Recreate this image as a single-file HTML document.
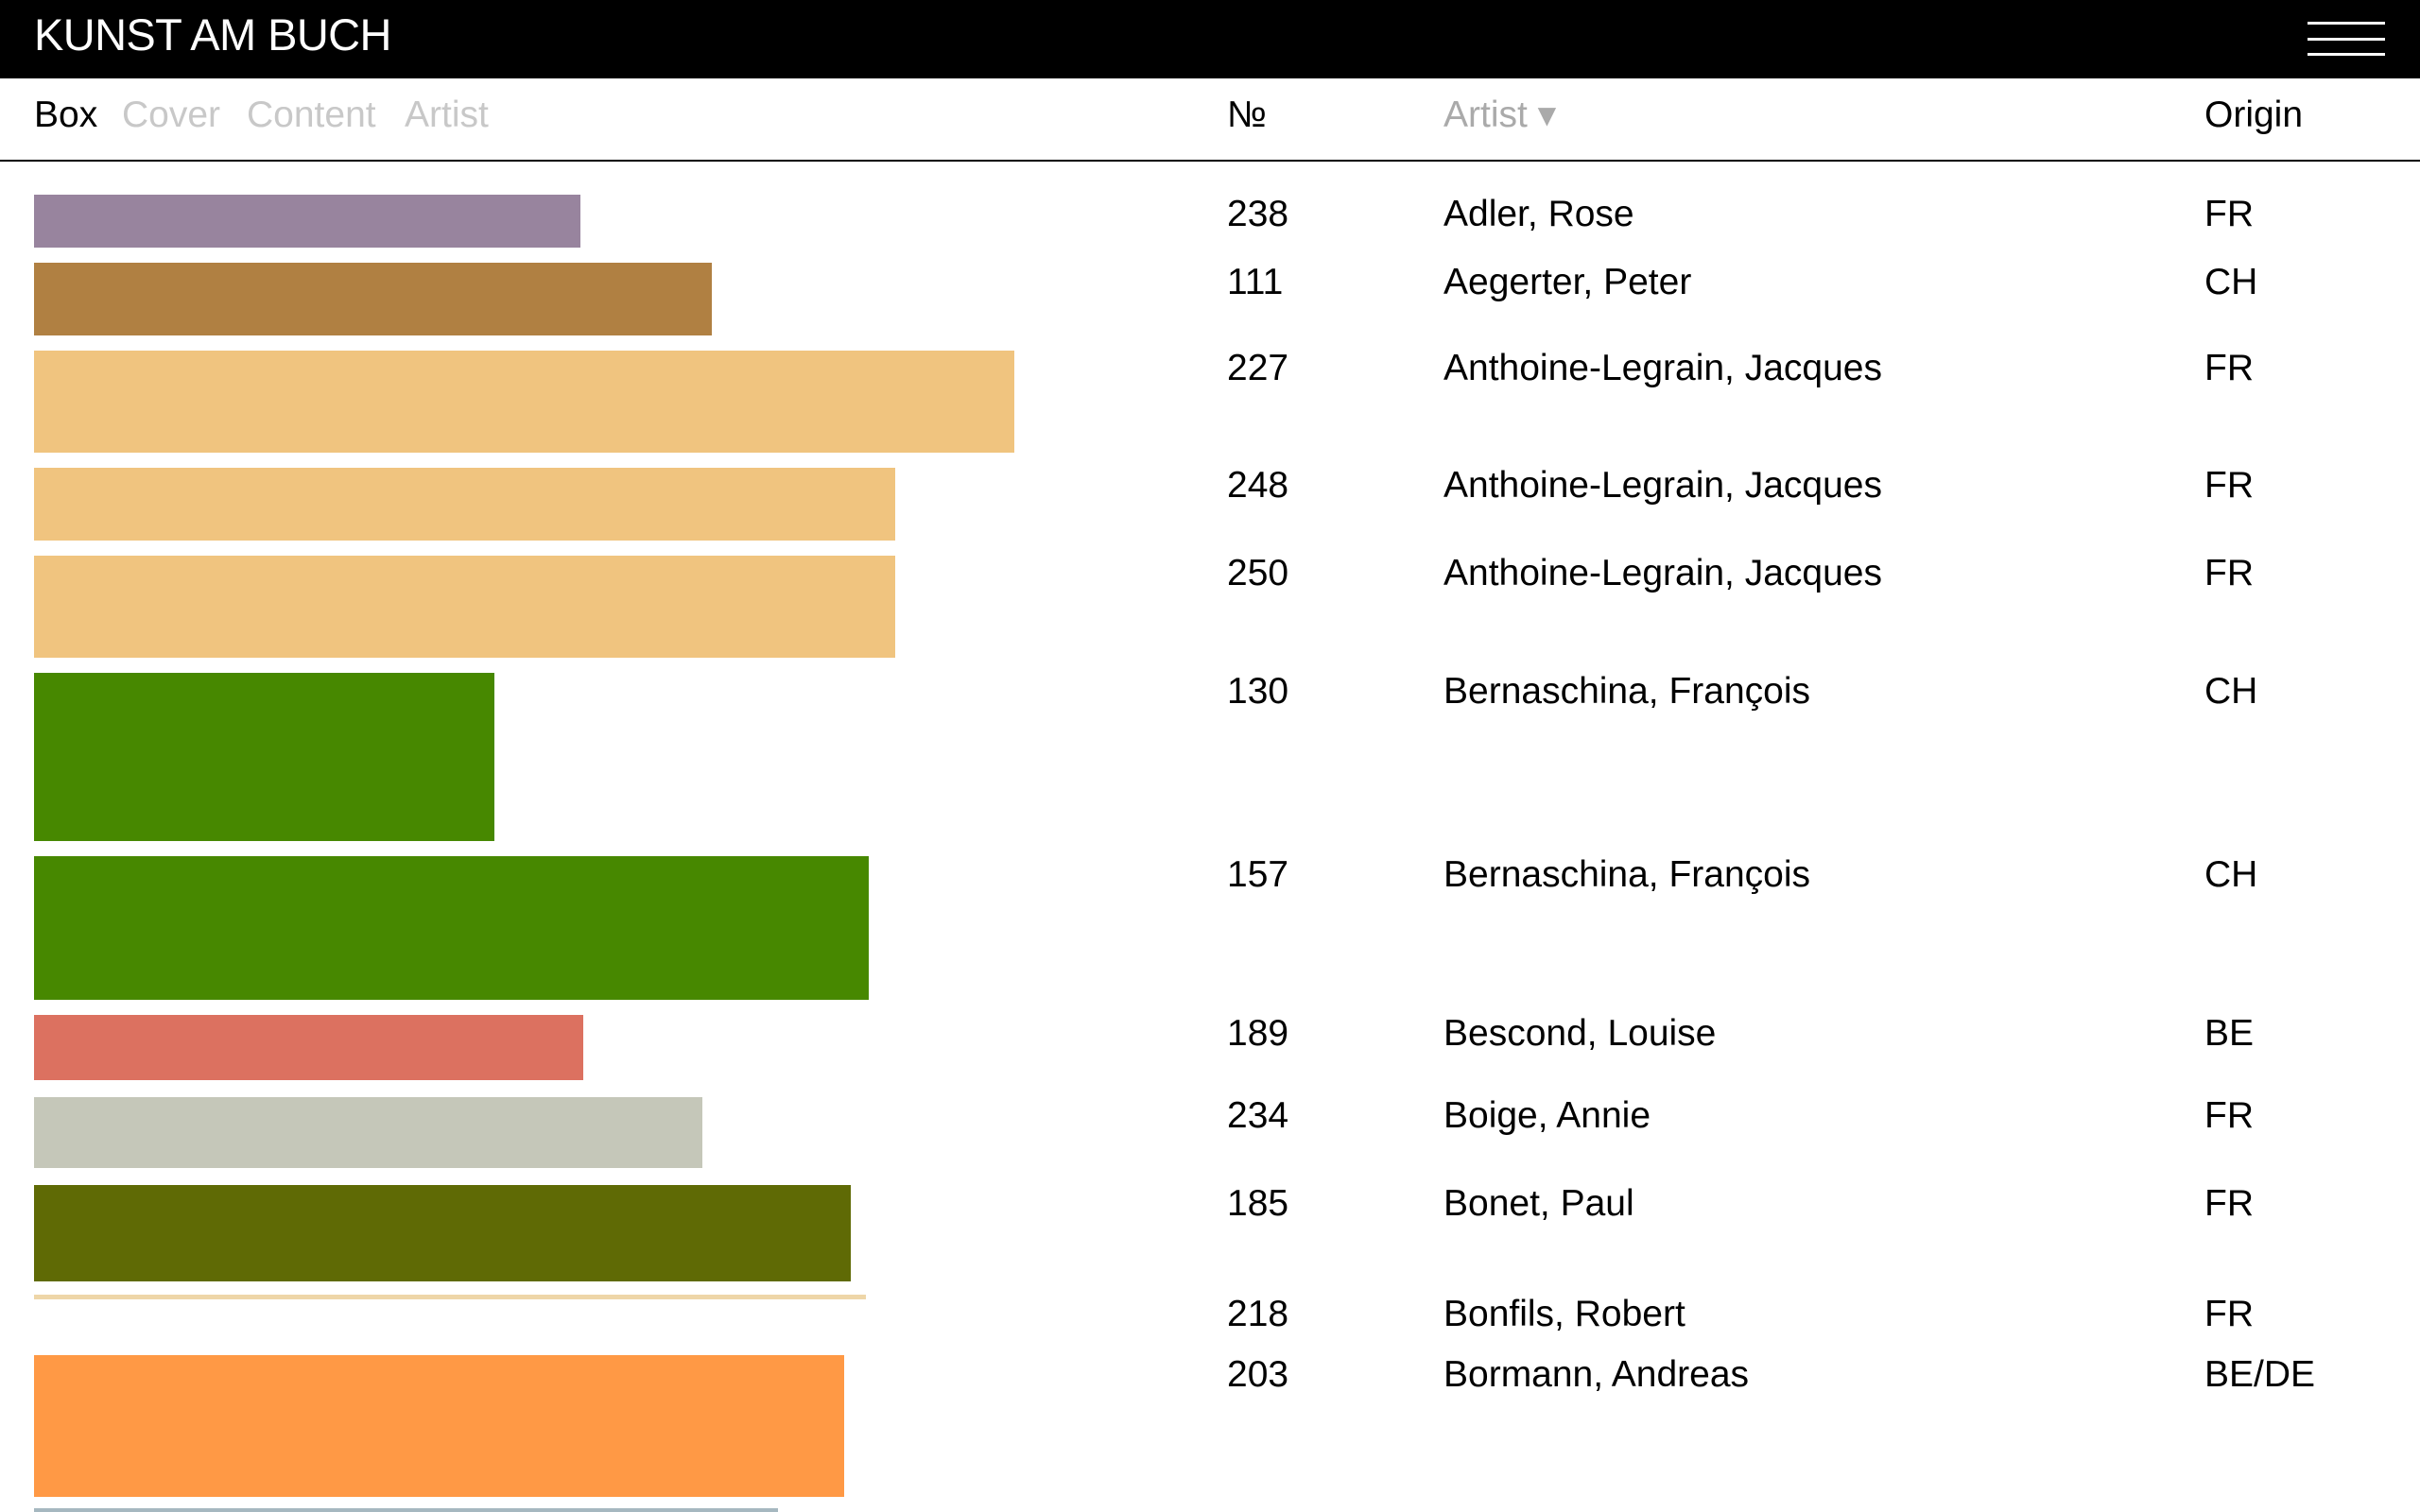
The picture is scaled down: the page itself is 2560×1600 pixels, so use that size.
<!DOCTYPE html>
<html><head><meta charset="utf-8"><style>
*{margin:0;padding:0;box-sizing:border-box}
body{width:2560px;height:1600px;overflow:hidden;background:#fff;font-family:"Liberation Sans",sans-serif;position:relative}
.hdr{position:absolute;left:0;top:0;width:2560px;height:83px;background:#000}
.title{position:absolute;left:36px;top:9px;color:#fff;font-size:47px;line-height:56px;letter-spacing:-0.6px}
.hb{position:absolute;left:2441px;width:82px;height:3px;background:#fff}
.t{position:absolute;font-size:39px;line-height:48px;color:#000;white-space:nowrap}
.g{color:#c8c8c8}
.line{position:absolute;left:0;top:169px;width:2560px;height:2px;background:#000}
.b{position:absolute;left:36px}
</style></head><body>
<div class="hdr"><div class="title">KUNST AM BUCH</div>
<div class="hb" style="top:23px"></div><div class="hb" style="top:40px"></div><div class="hb" style="top:56px"></div></div>
<div class="t" style="left:36px;top:98px">Box</div>
<div class="t g" style="left:129px;top:98px">Cover</div>
<div class="t g" style="left:261px;top:98px">Content</div>
<div class="t g" style="left:428px;top:98px">Artist</div>
<div class="t" style="left:1298px;top:98px">№</div>
<div class="t" style="left:1527px;top:98px;color:#aaa">Artist ▾</div>
<div class="t" style="left:2332px;top:98px">Origin</div>
<div class="line"></div>

<div class="b" style="top:206px;height:56px;width:578px;background:#98849e"></div>
<div class="b" style="top:278px;height:77px;width:717px;background:#b08042"></div>
<div class="b" style="top:371px;height:108px;width:1037px;background:#f0c47f"></div>
<div class="b" style="top:495px;height:77px;width:911px;background:#f0c47f"></div>
<div class="b" style="top:588px;height:108px;width:911px;background:#f0c47f"></div>
<div class="b" style="top:712px;height:178px;width:487px;background:#478800"></div>
<div class="b" style="top:906px;height:152px;width:883px;background:#478800"></div>
<div class="b" style="top:1074px;height:69px;width:581px;background:#dc7160"></div>
<div class="b" style="top:1161px;height:75px;width:707px;background:#c5c7b9"></div>
<div class="b" style="top:1254px;height:102px;width:864px;background:#5f6a05"></div>
<div class="b" style="top:1370px;height:5px;width:880px;background:#eed6a8"></div>
<div class="b" style="top:1434px;height:150px;width:857px;background:#ff9945"></div>
<div class="b" style="top:1596px;height:4px;width:787px;background:#a6b8c0"></div>

<div class="t" style="left:1298px;top:203px">238</div><div class="t" style="left:1527px;top:203px">Adler, Rose</div><div class="t" style="left:2332px;top:203px">FR</div>
<div class="t" style="left:1298px;top:275px">111</div><div class="t" style="left:1527px;top:275px">Aegerter, Peter</div><div class="t" style="left:2332px;top:275px">CH</div>
<div class="t" style="left:1298px;top:366px">227</div><div class="t" style="left:1527px;top:366px">Anthoine-Legrain, Jacques</div><div class="t" style="left:2332px;top:366px">FR</div>
<div class="t" style="left:1298px;top:490px">248</div><div class="t" style="left:1527px;top:490px">Anthoine-Legrain, Jacques</div><div class="t" style="left:2332px;top:490px">FR</div>
<div class="t" style="left:1298px;top:583px">250</div><div class="t" style="left:1527px;top:583px">Anthoine-Legrain, Jacques</div><div class="t" style="left:2332px;top:583px">FR</div>
<div class="t" style="left:1298px;top:708px">130</div><div class="t" style="left:1527px;top:708px">Bernaschina, François</div><div class="t" style="left:2332px;top:708px">CH</div>
<div class="t" style="left:1298px;top:902px">157</div><div class="t" style="left:1527px;top:902px">Bernaschina, François</div><div class="t" style="left:2332px;top:902px">CH</div>
<div class="t" style="left:1298px;top:1070px">189</div><div class="t" style="left:1527px;top:1070px">Bescond, Louise</div><div class="t" style="left:2332px;top:1070px">BE</div>
<div class="t" style="left:1298px;top:1157px">234</div><div class="t" style="left:1527px;top:1157px">Boige, Annie</div><div class="t" style="left:2332px;top:1157px">FR</div>
<div class="t" style="left:1298px;top:1250px">185</div><div class="t" style="left:1527px;top:1250px">Bonet, Paul</div><div class="t" style="left:2332px;top:1250px">FR</div>
<div class="t" style="left:1298px;top:1367px">218</div><div class="t" style="left:1527px;top:1367px">Bonfils, Robert</div><div class="t" style="left:2332px;top:1367px">FR</div>
<div class="t" style="left:1298px;top:1431px">203</div><div class="t" style="left:1527px;top:1431px">Bormann, Andreas</div><div class="t" style="left:2332px;top:1431px">BE/DE</div>
</body></html>
